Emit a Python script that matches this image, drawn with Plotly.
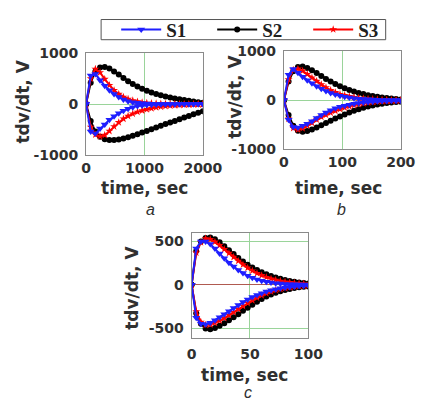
import plotly.graph_objects as go

# ---------------- data ----------------
t_a = [i * 80 for i in range(26)]      # 0..2000 s
t_b = [i * 8 for i in range(26)]       # 0..200 s
t_c = [i * 4 for i in range(26)]       # 0..100 s

# panel a
a_s1_up = [0, 560, 590, 470, 360, 270, 200, 140, 90, 58, 38, 24, 15, 9, 6, 4, 3, 2, 1, 1, 0, 0, 0, 0, 0, 0]
a_s1_lo = [0, -540, -580, -480, -400, -310, -240, -180, -130, -90, -60, -40, -27, -18, -12, -8, -5, -3, -2, -1, 0, 0, 0, 0, 0, 0]
a_s2_up = [0, 420, 640, 720, 730, 700, 640, 580, 510, 450, 395, 345, 300, 262, 228, 198, 172, 150, 128, 110, 94, 78, 64, 50, 38, 25]
a_s2_lo = [0, -330, -540, -640, -690, -705, -705, -695, -675, -650, -620, -590, -560, -530, -495, -460, -425, -392, -360, -330, -298, -265, -232, -200, -170, -140]
a_s3_up = [0, 500, 690, 620, 490, 370, 270, 195, 140, 100, 70, 48, 32, 22, 15, 10, 7, 5, 3, 2, 1, 0, 0, 0, 0, 0]
a_s3_lo = [0, -450, -600, -635, -610, -530, -440, -360, -290, -235, -190, -155, -127, -103, -83, -66, -52, -40, -31, -24, -18, -13, -10, -7, -5, -4]

# panel b
b_s1_up = [0, 520, 640, 560, 480, 410, 345, 285, 235, 190, 150, 118, 92, 72, 55, 42, 32, 24, 18, 13, 10, 7, 5, 4, 3, 2]
b_s1_lo = [0, -400, -545, -555, -520, -480, -430, -360, -300, -250, -205, -165, -135, -110, -90, -72, -58, -46, -37, -29, -23, -18, -14, -11, -8, -6]
b_s2_up = [0, 380, 590, 680, 690, 660, 610, 555, 495, 435, 380, 330, 285, 245, 210, 178, 150, 125, 104, 86, 70, 56, 44, 33, 24, 16]
b_s2_lo = [0, -300, -520, -625, -645, -630, -595, -555, -510, -465, -420, -375, -330, -290, -250, -215, -182, -153, -127, -105, -86, -70, -56, -45, -36, -30]
b_s3_up = [0, 420, 620, 640, 600, 530, 460, 390, 320, 260, 205, 160, 122, 100, 78, 60, 46, 35, 26, 19, 14, 10, 7, 5, 3, 2]
b_s3_lo = [0, -380, -570, -600, -575, -520, -460, -395, -340, -300, -255, -215, -180, -150, -124, -100, -80, -63, -50, -39, -30, -23, -17, -13, -10, -7]

# panel c
c_s1_up = [0, 420, 500, 500, 470, 420, 360, 305, 255, 210, 170, 135, 105, 82, 62, 46, 34, 25, 18, 13, 9, 7, 5, 3, 2, 1]
c_s1_lo = [0, -380, -450, -455, -440, -410, -375, -340, -305, -270, -235, -200, -170, -142, -118, -97, -79, -64, -52, -41, -32, -25, -19, -15, -12, -10]
c_s2_up = [0, 390, 500, 540, 545, 525, 490, 445, 400, 355, 310, 270, 232, 200, 170, 144, 121, 100, 83, 68, 55, 44, 35, 27, 20, 15]
c_s2_lo = [0, -330, -450, -505, -515, -500, -475, -445, -410, -375, -340, -300, -265, -230, -195, -165, -136, -112, -92, -75, -60, -48, -38, -30, -24, -20]
c_s3_up = [0, 370, 490, 535, 525, 495, 455, 410, 365, 320, 275, 232, 195, 162, 133, 108, 87, 70, 55, 43, 34, 27, 21, 16, 12, 9]
c_s3_lo = [0, -310, -430, -465, -460, -440, -415, -385, -350, -318, -282, -246, -212, -180, -150, -123, -100, -80, -63, -50, -39, -30, -23, -17, -13, -10]

series_names = ["S1", "S2", "S3"]
y_ticks_ab = [-1000, 0, 1000]
y_ticks_c = [-500, 0, 500]
x_ticks_a = [0, 1000, 2000]
x_ticks_b = [0, 100, 200]
x_ticks_c = [0, 50, 100]

# ---------------- style ----------------
W, H = 433, 408
def px(x): return x / W
def py(y): return 1 - y / H

styles = {
    "S1": dict(color="#1f1fff", symbol="triangle-down", size=7),
    "S2": dict(color="#000000", symbol="circle", size=6),
    "S3": dict(color="#ff0000", symbol="star", size=6),
}
tick_font = dict(family="DejaVu Sans", size=14, color="#303030", weight="bold")
title_font = dict(family="DejaVu Sans", size=17, color="#303030", weight="bold")

fig = go.Figure()

panels = [
    ("x", "y", t_a, [(a_s1_up, a_s1_lo), (a_s2_up, a_s2_lo), (a_s3_up, a_s3_lo)]),
    ("x2", "y2", t_b, [(b_s1_up, b_s1_lo), (b_s2_up, b_s2_lo), (b_s3_up, b_s3_lo)]),
    ("x3", "y3", t_c, [(c_s1_up, c_s1_lo), (c_s2_up, c_s2_lo), (c_s3_up, c_s3_lo)]),
]
order = [1, 2, 0]
for pi, (xa, ya, t, data) in enumerate(panels):
    for si in order:
        name = series_names[si]
        st = styles[name]
        for k, vals in enumerate(data[si]):
            fig.add_trace(go.Scatter(
                x=t, y=vals, xaxis=xa, yaxis=ya, mode="lines+markers",
                name=name, legendgroup=name,
                showlegend=(pi == 0 and k == 0),
                line=dict(color=st["color"], width=2),
                marker=dict(symbol=st["symbol"], size=st["size"], color=st["color"],
                            line=dict(width=0)),
                legendrank=si,
            ))

def labels(vals):
    return [str(v) for v in vals]

grid_green = "#9ad49a"
axis_common = dict(showline=True, mirror=True, linecolor="#8a8a8a", linewidth=1,
                   showgrid=True, gridcolor=grid_green, gridwidth=1,
                   tickfont=tick_font, ticks="", zeroline=False)

dom_a_x = [px(86), px(210)]; dom_a_y = [py(153), py(47)]
dom_b_x = [px(296), px(420)]; dom_b_y = [py(147), py(45)]
dom_c_x = [px(198), px(322)]; dom_c_y = [py(343), py(234)]

fig.update_layout(
    width=W, height=H, margin=dict(l=0, r=0, t=0, b=0),
    paper_bgcolor="white", plot_bgcolor="white",
    xaxis=dict(domain=dom_a_x, anchor="y", range=[0, 2000], tickvals=x_ticks_a, ticktext=labels(x_ticks_a), ticklabelstandoff=0, **axis_common),
    yaxis=dict(domain=dom_a_y, anchor="x", range=[-1000, 1000], tickvals=y_ticks_ab, ticktext=labels(y_ticks_ab), ticklabelstandoff=4, **axis_common),
    xaxis2=dict(domain=dom_b_x, anchor="y2", range=[0, 200], tickvals=x_ticks_b, ticktext=labels(x_ticks_b), ticklabelstandoff=0, **axis_common),
    yaxis2=dict(domain=dom_b_y, anchor="x2", range=[-1000, 1000], tickvals=y_ticks_ab, ticktext=labels(y_ticks_ab), ticklabelstandoff=4, **axis_common),
    xaxis3=dict(domain=dom_c_x, anchor="y3", range=[0, 100], tickvals=x_ticks_c, ticktext=labels(x_ticks_c), ticklabelstandoff=4, **axis_common),
    yaxis3=dict(domain=dom_c_y, anchor="x3", range=[-610, 600], tickvals=y_ticks_c, ticktext=labels(y_ticks_c), ticklabelstandoff=4,
                **{**axis_common, "zeroline": True}, zerolinecolor="#b05a50", zerolinewidth=1),
    legend=dict(orientation="h", x=px(118), y=py(22.5), xanchor="left", yanchor="middle",
                borderwidth=0, bgcolor="rgba(0,0,0,0)",
                font=dict(family="Liberation Serif", size=19, color="#202020", weight="bold"),
                entrywidth=41, entrywidthmode="pixels", itemwidth=40,
                traceorder="normal"),
    showlegend=True,
    shapes=[dict(type="rect", xref="paper", yref="paper",
                 x0=px(102), x1=px(404), y0=py(33), y1=py(12),
                 line=dict(color="#555555", width=1), fillcolor="white", layer="below")],
)

ann = []
def add_text(text, x, y, font, angle=0):
    ann.append(dict(text=text, x=px(x), y=py(y), xref="paper", yref="paper",
                    showarrow=False, xanchor="center", yanchor="middle",
                    textangle=angle, font=font))

add_text("time, sec", 148, 187, title_font)
add_text("time, sec", 354, 187, title_font)
add_text("time, sec", 254, 382, title_font)
add_text("tdv/dt, V", 19.5, 97, title_font, -90)
add_text("tdv/dt, V", 244.5, 92, title_font, -90)
add_text("tdv/dt, V", 134, 291, title_font, -90)
cap_font = dict(family="Liberation Sans", size=16, color="#303030", style="italic")
add_text("a", 154, 210, cap_font)
add_text("b", 357, 210, cap_font)
add_text("c", 258, 400, cap_font)
fig.update_layout(annotations=ann)

fig.write_html("out.html")
